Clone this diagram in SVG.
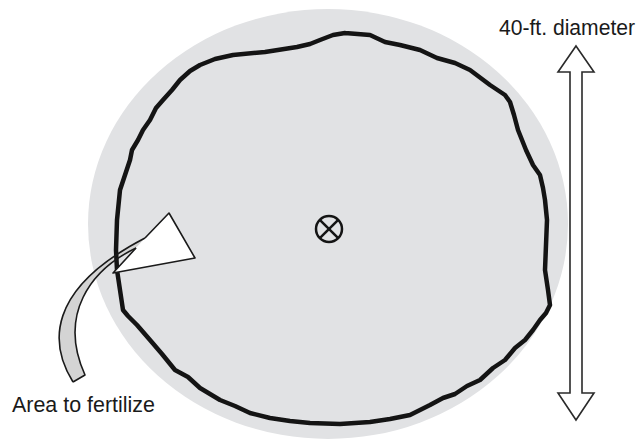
<svg xmlns="http://www.w3.org/2000/svg" width="642" height="443" viewBox="0 0 642 443">
<style>
.lbl{font-family:"Liberation Sans",Arial,sans-serif;font-size:22px;fill:#1a1a1a}
.thin{fill:none;stroke:#1a1a1a;stroke-width:1.6;stroke-linejoin:round}
</style>
<rect width="642" height="443" fill="#ffffff"/>
<g id="area">
<ellipse cx="328" cy="224" rx="240" ry="215" fill="#e1e2e4"/>
</g>
<g id="ribbon">
<path d="M73 382 C50 345 45 290 145 238 L136 248 C90 270 58 315 85 375 Z" fill="#d4d4d4"/>
</g>
<g id="dripline">
<polyline fill="none" stroke="#141414" stroke-width="4.5" stroke-linejoin="round" stroke-linecap="round" points="345,33 370,35 385,42 400,45 420,50 437,58 455,63 470,70 490,85 505,95 510,102 514,115 518,130 526,150 533,165 540,175 543,188 545,200 547,220 546,245 545,270 548,290 550,305 546,313 540,320 533,330 525,340 515,348 505,360 493,368 480,380 467,386 455,394 443,398 430,405 410,415 390,419 370,422 340,424 310,423 290,421 270,418 250,413 235,406 220,400 200,388 188,377 175,370 162,354 150,340 137,325 128,316 123,310 120,290 117,270 116,250 117,220 120,190 126,172 130,160 132,150 138,140 143,130 150,120 156,108 163,100 172,90 180,80 190,71 200,65 215,59 233,55 265,52 297,47 310,44 320,40 333,35 345,33"/>
</g>
<g id="wedge">
<polygon points="145,238 169,213 195,258 113,273 136,248" fill="#ffffff"/>
<polyline class="thin" points="145,238 169,213 195,258 113,273 136,248"/>
<path class="thin" d="M73 382 C50 345 45 290 145 238 M136 248 C90 270 58 315 85 375 L73 382"/>
</g>
<g id="center-marker" fill="none" stroke="#141414" stroke-width="2.5">
<circle cx="329" cy="229" r="13"/>
<line x1="319.8" y1="219.8" x2="338.2" y2="238.2"/>
<line x1="338.2" y1="219.8" x2="319.8" y2="238.2"/>
</g>
<g id="connectors">
<polygon points="576,46 594,72 582,72 582,393 594,393 576,420 558,393 570,393 570,72 558,72" fill="#ffffff" stroke="#2a2a2a" stroke-width="1.6" stroke-linejoin="miter"/>
</g>
<g id="labels">
<text class="lbl" x="499" y="35" textLength="136" lengthAdjust="spacingAndGlyphs">40-ft. diameter</text>
<text class="lbl" x="12" y="412" textLength="143" lengthAdjust="spacingAndGlyphs">Area to fertilize</text>
</g>
</svg>
